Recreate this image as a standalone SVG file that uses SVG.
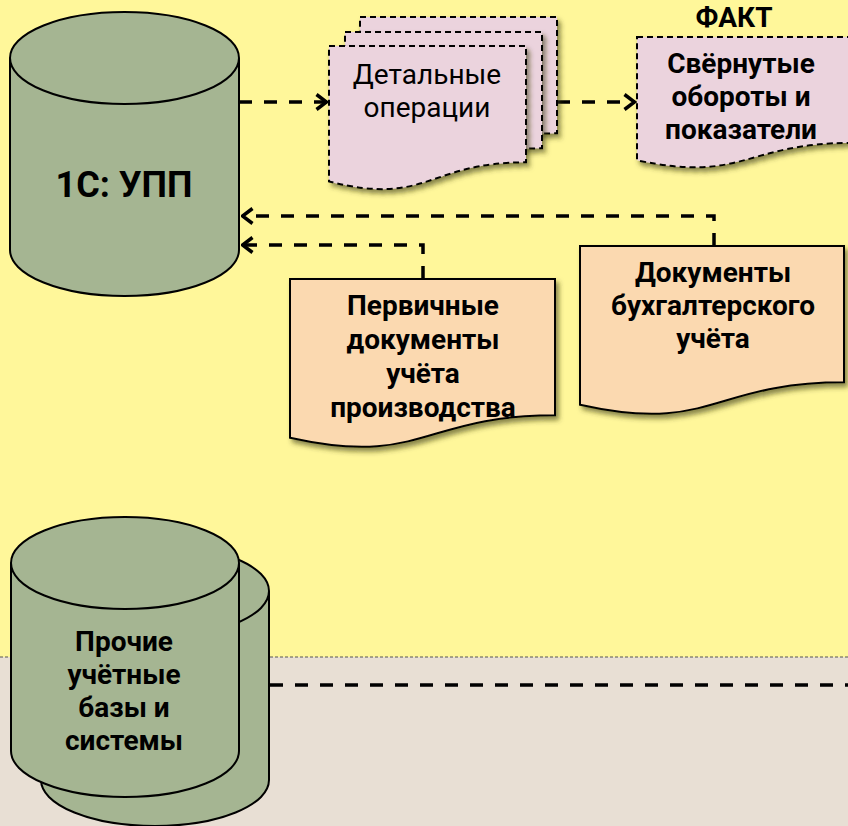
<svg xmlns="http://www.w3.org/2000/svg" width="848" height="826" viewBox="0 0 848 826">
<defs>
<style>
.bold{font-family:Roboto,"Open Sans","DejaVu Sans",sans-serif;font-weight:bold;font-size:28px;fill:#000;text-anchor:middle}
.reg{font-family:Roboto,"Open Sans","DejaVu Sans",sans-serif;font-size:28px;fill:#000;text-anchor:middle}
.cyl{fill:#A5B592;stroke:#000;stroke-width:2}
.pink{fill:#EBD3DD;stroke:#000;stroke-width:2;stroke-dasharray:6 4}
.peach{fill:#FBD9B0;stroke:#000;stroke-width:2}
.conn{fill:none;stroke:#000;stroke-width:3.5;stroke-dasharray:13 12}
</style>
<filter id="sh" x="-10%" y="-10%" width="130%" height="140%">
<feDropShadow dx="3" dy="4" stdDeviation="2.5" flood-color="#3a3a10" flood-opacity="0.6"/>
</filter>
<marker id="arr" viewBox="0 0 14 18" refX="12.5" refY="9" markerWidth="14" markerHeight="18" markerUnits="userSpaceOnUse" orient="auto">
<path d="M2,1.5 L12,9 L2,16.5" fill="none" stroke="#000" stroke-width="3.5"/>
</marker>
</defs>
<rect x="0" y="0" width="848" height="657" fill="#FFF79A"/>
<rect x="0" y="657" width="848" height="169" fill="#E8DFD4"/>
<line x1="0" y1="657" x2="848" y2="657" stroke="#555" stroke-width="1" stroke-dasharray="3 2"/>

<g id="connectors">
<path class="conn" d="M239,102 H327" marker-end="url(#arr)"/>
<path class="conn" d="M557,102 H635" marker-end="url(#arr)"/>
<path class="conn" d="M714,246 V216 H242" marker-end="url(#arr)"/>
<path class="conn" d="M423,279 V245 H242" marker-end="url(#arr)"/>
<path class="conn" d="M270,685 H848"/>
</g>

<g id="upp">
<path class="cyl" d="M10,58 A114.5,46 0 0 1 239,58 V250 A114.5,46 0 0 1 10,250 Z"/>
<path class="cyl" fill="none" d="M10,58 A114.5,46 0 0 0 239,58"/>
<text class="bold" x="124" y="197" style="font-size:36px">1С: УПП</text>
</g>

<g id="detail">
<path class="pink" filter="url(#sh)" d="M360,17 H557 V133.3 C458.5,133.3 458.5,177.6 360,152.4 Z"/>
<path class="pink" filter="url(#sh)" d="M345,32 H542 V148.3 C443.5,148.3 443.5,192.6 345,167.4 Z"/>
<path class="pink" filter="url(#sh)" d="M329,46 H526 V162.3 C427.5,162.3 427.5,206.6 329,181.4 Z"/>
<text class="reg" x="427" y="84">Детальные</text>
<text class="reg" x="427" y="117">операции</text>
</g>

<g id="fact">
<text class="bold" x="734" y="27">ФАКТ</text>
<path class="pink" filter="url(#sh)" d="M637,37 H852 V142.9 C744.5,142.9 744.5,183.2 637,160.3 Z"/>
<text class="bold" x="741" y="73">Свёрнутые</text>
<text class="bold" x="741" y="106">обороты и</text>
<text class="bold" x="741" y="139">показатели</text>
</g>

<g id="primary">
<path class="peach" filter="url(#sh)" d="M290,279 H555 V415.3 C422.5,415.3 422.5,467.3 290,437.8 Z"/>
<text class="bold" x="423" y="315">Первичные</text>
<text class="bold" x="423" y="349">документы</text>
<text class="bold" x="423" y="383">учёта</text>
<text class="bold" x="423" y="417">производства</text>
</g>

<g id="accounting">
<path class="peach" filter="url(#sh)" d="M580,246 H844 V382.3 C712,382.3 712,434.3 580,404.8 Z"/>
<text class="bold" x="713" y="282">Документы</text>
<text class="bold" x="713" y="315">бухгалтерского</text>
<text class="bold" x="713" y="348">учёта</text>
</g>

<g id="other">
<path class="cyl" d="M41,591 A114,46 0 0 1 269,591 V780 A114,46 0 0 1 41,780 Z"/>
<path class="cyl" fill="none" d="M41,591 A114,46 0 0 0 269,591"/>
<path class="cyl" d="M11,563 A114,46 0 0 1 239,563 V751 A114,46 0 0 1 11,751 Z"/>
<path class="cyl" fill="none" d="M11,563 A114,46 0 0 0 239,563"/>
<text class="bold" x="124" y="651">Прочие</text>
<text class="bold" x="124" y="684">учётные</text>
<text class="bold" x="124" y="717">базы и</text>
<text class="bold" x="124" y="750">системы</text>
</g>
</svg>
